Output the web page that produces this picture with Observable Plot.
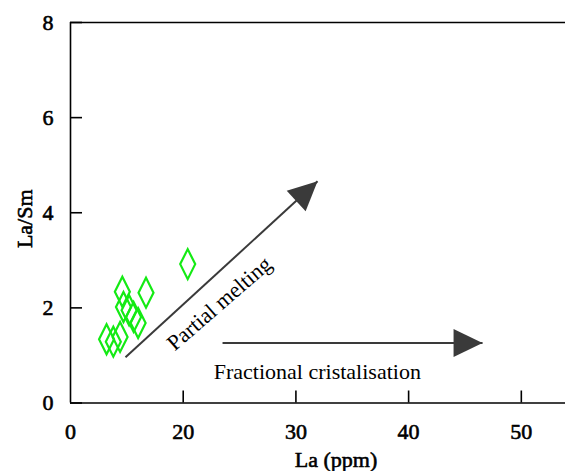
<!DOCTYPE html>
<html>
<head>
<meta charset="utf-8">
<script src="https://cdn.jsdelivr.net/npm/d3@7"></script>
<script src="https://cdn.jsdelivr.net/npm/@observablehq/plot@0.6"></script>
<style>
  html, body { margin: 0; padding: 0; background: #fff; }
</style>
</head>
<body>
<div id="chart"></div>
<script>
// ---- data ----
const laValues   = [14.6, 16.7, 14.7, 15.2, 15.6, 16.0, 13.2, 13.8, 14.4, 20.4];
const laSmValues = [2.34, 2.32, 2.02, 1.95, 1.81, 1.68, 1.34, 1.29, 1.39, 2.92];

const xTicks = [10, 20, 30, 40, 50];
const xTickLabels = ["0", "20", "30", "40", "50"];
const yTicks = [0, 2, 4, 6, 8];
const xTitle = "La (ppm)";
const yTitle = "La/Sm";

// trend arrows (data units)
const arrowLabels = ["Partial melting", "Fractional cristalisation"];
const arrowX1 = [14.88, 23.49];
const arrowY1 = [0.96, 1.26];
const arrowX2 = [31.92, 46.56];
const arrowY2 = [4.66, 1.26];
const arrowLabelX = [23.2, 31.9];
const arrowLabelY = [2.09, 0.66];

// ---- layout ----
const W = 565, H = 471;
const mL = 70, mT = 22, mB = 68.5, mR = 0;
const xDomain = [10, 53.92];
const yDomain = [0, 8];
const font = "Liberation Serif";
const arrowColor = "#3a3a3a";
const green = "#14ea14";
// heavy serif text (drawn with a thin outline for weight)
const heavy = {fontFamily: font, fontWeight: "normal", fill: "#000", stroke: "#000", strokeWidth: 0.6};

const xs = Plot.scale({x: {domain: xDomain, range: [mL, W - mR]}});
const ys = Plot.scale({y: {domain: yDomain, range: [H - mB, mT]}});
const idx = arrowLabels.map((_, i) => i);
const angles = idx.map(i => Math.atan2(ys.apply(arrowY2[i]) - ys.apply(arrowY1[i]),
                                        xs.apply(arrowX2[i]) - xs.apply(arrowX1[i])) * 180 / Math.PI);
const labelRotate = idx.map(i => angles[i] < -1 ? angles[i] + 1.5 : 0);

const headSymbol = {
  draw(ctx, size) {
    const k = Math.sqrt(size / Math.PI) / 10;
    ctx.moveTo(0, 0);
    ctx.lineTo(-29 * k, -14 * k);
    ctx.lineTo(-29 * k, 14 * k);
    ctx.closePath();
  }
};
const diamond = {
  draw(ctx, size) {
    const k = Math.sqrt(size / Math.PI) / 10;
    ctx.moveTo(0, -15 * k);
    ctx.lineTo(7.5 * k, 0);
    ctx.lineTo(0, 15 * k);
    ctx.lineTo(-7.5 * k, 0);
    ctx.closePath();
  }
};

const pts = laValues.map((d, i) => ({la: d, ratio: laSmValues[i]}));
const frameW = W - mL - mR, frameH = H - mT - mB;

const chart = Plot.plot({
  width: W,
  height: H,
  marginLeft: mL, marginTop: mT, marginBottom: mB, marginRight: mR,
  x: {domain: xDomain, axis: null},
  y: {domain: yDomain, axis: null},
  style: {fontFamily: font, background: "#fff", color: "#000", overflow: "visible"},
  marks: [
    // frame lines
    Plot.ruleY([yDomain[1]], {stroke: "#000", strokeWidth: 1.6}),
    Plot.ruleY([yDomain[0]], {stroke: "#000", strokeWidth: 1.6}),
    Plot.ruleX([xDomain[0]], {stroke: "#000", strokeWidth: 1.6}),
    // inward ticks
    Plot.tickY(yTicks, {y: d => d, insetRight: frameW - 12, stroke: "#000", strokeWidth: 1.6}),
    Plot.tickX(xTicks.slice(1), {x: d => d, insetTop: frameH - 12, stroke: "#000", strokeWidth: 1.6}),
    // tick labels
    Plot.text(yTicks, {y: d => d, text: d => String(d), frameAnchor: "left", textAnchor: "end",
      lineAnchor: "middle", dx: -17, fontSize: 22, ...heavy}),
    Plot.text(xTicks, {x: d => d, text: (d, i) => xTickLabels[i], frameAnchor: "bottom",
      textAnchor: "middle", lineAnchor: "middle", dy: 29, fontSize: 22, ...heavy}),
    // axis titles
    Plot.text([yTitle], {frameAnchor: "left", textAnchor: "middle", rotate: -90, dx: -46, dy: 6,
      fontSize: 22, ...heavy}),
    Plot.text([xTitle], {frameAnchor: "bottom", textAnchor: "middle", dx: 18, dy: 48, lineAnchor: "top",
      fontSize: 22, ...heavy}),
    // data
    Plot.dot(pts, {x: "la", y: "ratio", symbol: diamond, r: 10, fill: "none",
      stroke: green, strokeWidth: 2.2}),
    // arrows
    Plot.link(idx, {x1: i => arrowX1[i], y1: i => arrowY1[i], x2: i => arrowX2[i], y2: i => arrowY2[i],
      stroke: arrowColor, strokeWidth: 2}),
    Plot.dot(idx, {x: i => arrowX2[i], y: i => arrowY2[i], symbol: headSymbol, r: 10,
      fill: arrowColor, stroke: "none", rotate: i => angles[i]}),
    Plot.text(idx, {x: i => arrowLabelX[i], y: i => arrowLabelY[i], text: i => arrowLabels[i],
      rotate: i => labelRotate[i], fontSize: 22, fill: "#000", fontFamily: font})
  ]
});
document.getElementById("chart").appendChild(chart);
</script>
</body>
</html>
